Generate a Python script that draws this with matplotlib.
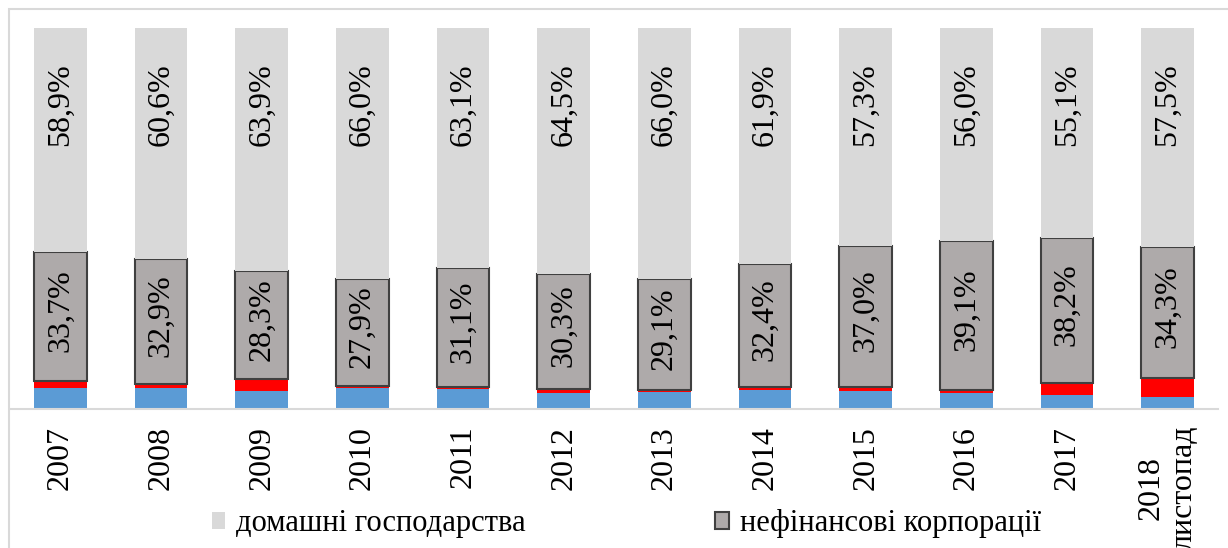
import matplotlib.pyplot as plt, numpy as np
from matplotlib.patches import Rectangle

plt.rcParams['font.family'] = ['Liberation Serif', 'DejaVu Serif']

years = ["2007", "2008", "2009", "2010", "2011", "2012", "2013", "2014", "2015", "2016", "2017", "2018\nлистопад"]
households = [58.9, 60.6, 63.9, 66.0, 63.1, 64.5, 66.0, 61.9, 57.3, 56.0, 55.1, 57.5]
corporations = [33.7, 32.9, 28.3, 27.9, 31.1, 30.3, 29.1, 32.4, 37.0, 39.1, 38.2, 34.3]
blue_part = [5.4, 5.5, 4.8, 5.4, 5.3, 4.3, 4.5, 5.1, 4.6, 4.1, 3.6, 3.1]
red_part = [2.0, 1.0, 3.0, 0.7, 0.5, 0.9, 0.4, 0.6, 1.1, 0.8, 3.1, 5.1]

W, H = 1228, 548
fig = plt.figure(figsize=(W / 100, H / 100), dpi=100)
# light frame around the chart area (cut at right/bottom like the source)
fig.patches.append(Rectangle((9 / W, -0.1), 1.2, 1.1 - 9 / H, transform=fig.transFigure,
                             fill=False, edgecolor="#d9d9d9", linewidth=1.5))
ax = fig.add_axes([10 / W, 1 - 409 / H, 1208 / W, 381 / H])

x = np.arange(len(years))
width = 0.52
blue = np.array(blue_part); red = np.array(red_part)
corp = np.array(corporations); house = np.array(households)

ax.bar(x, blue, width, color="#5b9bd5")
ax.bar(x, red, width, bottom=blue, color="#ff0000")
ax.bar(x, corp, width, bottom=blue + red, color="#aeaaaa", edgecolor="#404040", linewidth=1.5,
       label="нефінансові корпорації")
ax.bar(x, house, width, bottom=blue + red + corp, color="#d9d9d9", label="домашні господарства")

for i in range(len(years)):
    ax.text(x[i], blue[i] + red[i] + corp[i] / 2 + 1.5, f"{corp[i]:.1f}%".replace(".", ","),
            rotation=90, ha="center", va="center", fontsize=23)
    ax.text(x[i], 80, f"{house[i]:.1f}%".replace(".", ","),
            rotation=90, ha="center", va="center", fontsize=23)

ax.set_xlim(-0.5, len(years) - 0.5)
ax.set_ylim(0, 100)
ax.set_xticks(x)
ax.set_xticklabels(years, rotation=90, fontsize=23, multialignment="center")
ax.tick_params(axis="x", length=0, pad=12)
ax.set_yticks([])
for side in ["top", "right", "left"]:
    ax.spines[side].set_visible(False)
ax.spines["bottom"].set_color("#d9d9d9")
ax.spines["bottom"].set_linewidth(1.5)

handles, labels = ax.get_legend_handles_labels()
fig.legend(handles[::-1], labels[::-1], loc="center", bbox_to_anchor=(0.51, 1 - 524 / H), ncol=2,
           frameon=False, fontsize=22, handlelength=0.45, handleheight=0.45, handletextpad=0.35,
           columnspacing=6.2)

fig.savefig("out.png", dpi=100)
